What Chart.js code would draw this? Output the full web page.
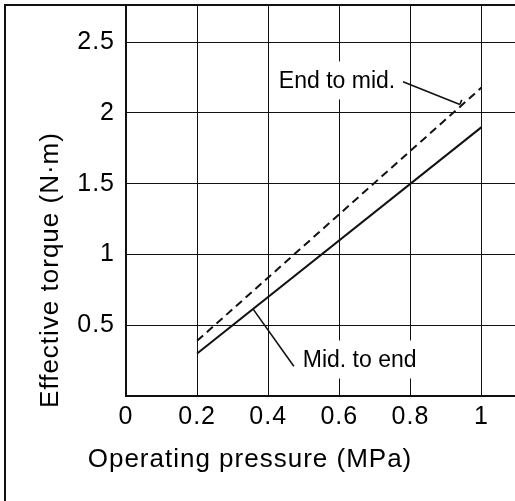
<!DOCTYPE html>
<html>
<head>
<meta charset="utf-8">
<script src="https://cdn.jsdelivr.net/npm/chart.js@4.4.1/dist/chart.umd.min.js"></script>
<style>
  html, body { margin: 0; padding: 0; background: #fff; }
  #wrap { position: relative; width: 515px; height: 501px; }
</style>
</head>
<body>
<div id="wrap"><canvas id="chart"></canvas></div>
<script>
"use strict";

// Axis ticks
const xTicks = [0, 0.2, 0.4, 0.6, 0.8, 1];
const yTicks = [0, 0.5, 1, 1.5, 2, 2.5];

// Series: operating pressure (MPa) vs effective torque (N·m)
const pressure = [0.2, 1.0];
const midToEnd = [0.30, 1.90];
const endToMid = [0.39, 2.18];

// Texts
const xTitle = 'Operating pressure (MPa)';
const yTitle = 'Effective torque (N·m)';
const seriesNames = ['Mid. to end', 'End to mid.'];

const fontFamily = "'Liberation Sans', Arial, Helvetica, sans-serif";
const ink = '#111';

function toPoints(xs, ys) {
    return xs.map(function (x, i) { return { x: x, y: ys[i] }; });
}

// Callouts: label centre, leader start and end, all in data units
const callouts = [
    { text: seriesNames[0], at: [0.657, 0.258], from: [0.472, 0.210], to: [0.358, 0.612], hook: false },
    { text: seriesNames[1], at: [0.5935, 2.23], from: [0.779, 2.22], to: [0.939, 2.06], hook: true }
];

var decor = {
    id: 'decor',
    beforeLayout: function (chart) {
        chart.ctx.letterSpacing = '1px';
    },
    beforeDraw: function (chart) {
        var ctx = chart.ctx;
        ctx.save();
        ctx.fillStyle = '#fff';
        ctx.fillRect(0, 0, chart.width, chart.height);
        ctx.restore();
        ctx.letterSpacing = '1px';
    },
    beforeDatasetsDraw: function (chart) {
        // white boxes behind the callout texts hide the grid
        var ctx = chart.ctx, xs = chart.scales.x, ys = chart.scales.y;
        ctx.save();
        ctx.letterSpacing = '0px';
        ctx.font = '23px ' + fontFamily;
        ctx.fillStyle = '#fff';
        callouts.forEach(function (c) {
            var w = ctx.measureText(c.text).width;
            var cx = xs.getPixelForValue(c.at[0]), cy = ys.getPixelForValue(c.at[1]);
            ctx.fillRect(cx - w / 2 - 5, cy - 19, w + 10, 38);
        });
        ctx.restore();
    },
    afterDraw: function (chart) {
        var ctx = chart.ctx, xs = chart.scales.x, ys = chart.scales.y;
        ctx.save();

        // frame round the figure
        ctx.strokeStyle = ink;
        ctx.lineWidth = 2;
        ctx.beginPath();
        ctx.moveTo(5, chart.height);
        ctx.lineTo(5, 5);
        ctx.lineTo(chart.width, 5);
        ctx.stroke();

        // callout texts and leaders
        ctx.letterSpacing = '0px';
        ctx.font = '23px ' + fontFamily;
        ctx.fillStyle = '#000';
        ctx.textAlign = 'center';
        ctx.textBaseline = 'middle';
        ctx.lineWidth = 1.6;
        callouts.forEach(function (c) {
            ctx.fillText(c.text, xs.getPixelForValue(c.at[0]), ys.getPixelForValue(c.at[1]) + 1);
            var x1 = xs.getPixelForValue(c.from[0]), y1 = ys.getPixelForValue(c.from[1]);
            var x2 = xs.getPixelForValue(c.to[0]), y2 = ys.getPixelForValue(c.to[1]);
            ctx.beginPath();
            ctx.moveTo(x1, y1);
            ctx.lineTo(x2, y2);
            if (c.hook) {
                var len = Math.hypot(x2 - x1, y2 - y1);
                var px = -(y2 - y1) / len, py = (x2 - x1) / len;
                ctx.moveTo(x2, y2);
                ctx.lineTo(x2 - px * 5, y2 - py * 5);
            }
            ctx.stroke();
        });

        // axis titles
        ctx.letterSpacing = '1px';
        ctx.font = '26px ' + fontFamily;
        ctx.textBaseline = 'alphabetic';
        ctx.fillText(xTitle, 250, 467);
        ctx.translate(58, 270);
        ctx.rotate(-Math.PI / 2);
        ctx.fillText(yTitle, 0, 0);
        ctx.restore();
    }
};

Chart.defaults.font.family = fontFamily;
Chart.defaults.color = '#000';

var ctx = document.getElementById('chart');

const config = {
    type: 'scatter',
    data: {
        datasets: [
            {
                label: seriesNames[0],
                data: toPoints(pressure, midToEnd),
                showLine: true,
                borderColor: ink,
                borderWidth: 2,
                pointRadius: 0
            },
            {
                label: seriesNames[1],
                data: toPoints(pressure, endToMid),
                showLine: true,
                borderColor: ink,
                borderWidth: 2,
                borderDash: [8, 5],
                pointRadius: 0
            }
        ]
    },
    options: {
        responsive: true,
        maintainAspectRatio: false,
        animation: false,
        layout: { padding: { top: 5, right: 0, bottom: 0, left: 0 } },
        plugins: {
            legend: { display: false },
            tooltip: { enabled: false }
        },
        scales: {
            x: {
                type: 'linear',
                min: 0,
                max: 1.094,
                afterBuildTicks: function (scale) {
                    scale.ticks = xTicks.map(function (v) { return { value: v }; });
                },
                afterFit: function (scale) {
                    scale.height = 105;
                    scale.paddingLeft = 0;
                    scale.paddingRight = 0;
                },
                ticks: {
                    autoSkip: false,
                    maxRotation: 0,
                    padding: 6,
                    font: { size: 25 },
                    callback: function (v) { return String(v); }
                },
                grid: { color: ink, lineWidth: 1, drawTicks: false },
                border: { color: ink, width: 2 }
            },
            y: {
                type: 'linear',
                min: 0,
                max: 2.763,
                afterBuildTicks: function (scale) {
                    scale.ticks = yTicks.map(function (v) { return { value: v }; });
                },
                afterFit: function (scale) {
                    scale.width = 126;
                    scale.paddingTop = 0;
                    scale.paddingBottom = 0;
                },
                ticks: {
                    padding: 11,
                    font: { size: 25 },
                    callback: function (v) { return v === 0 ? '' : String(v); }
                },
                grid: { color: ink, lineWidth: 1, drawTicks: false },
                border: { color: ink, width: 2 }
            }
        }
    },
    plugins: [decor]
};

var myChart = new Chart(ctx, config);
</script>
</body>
</html>
